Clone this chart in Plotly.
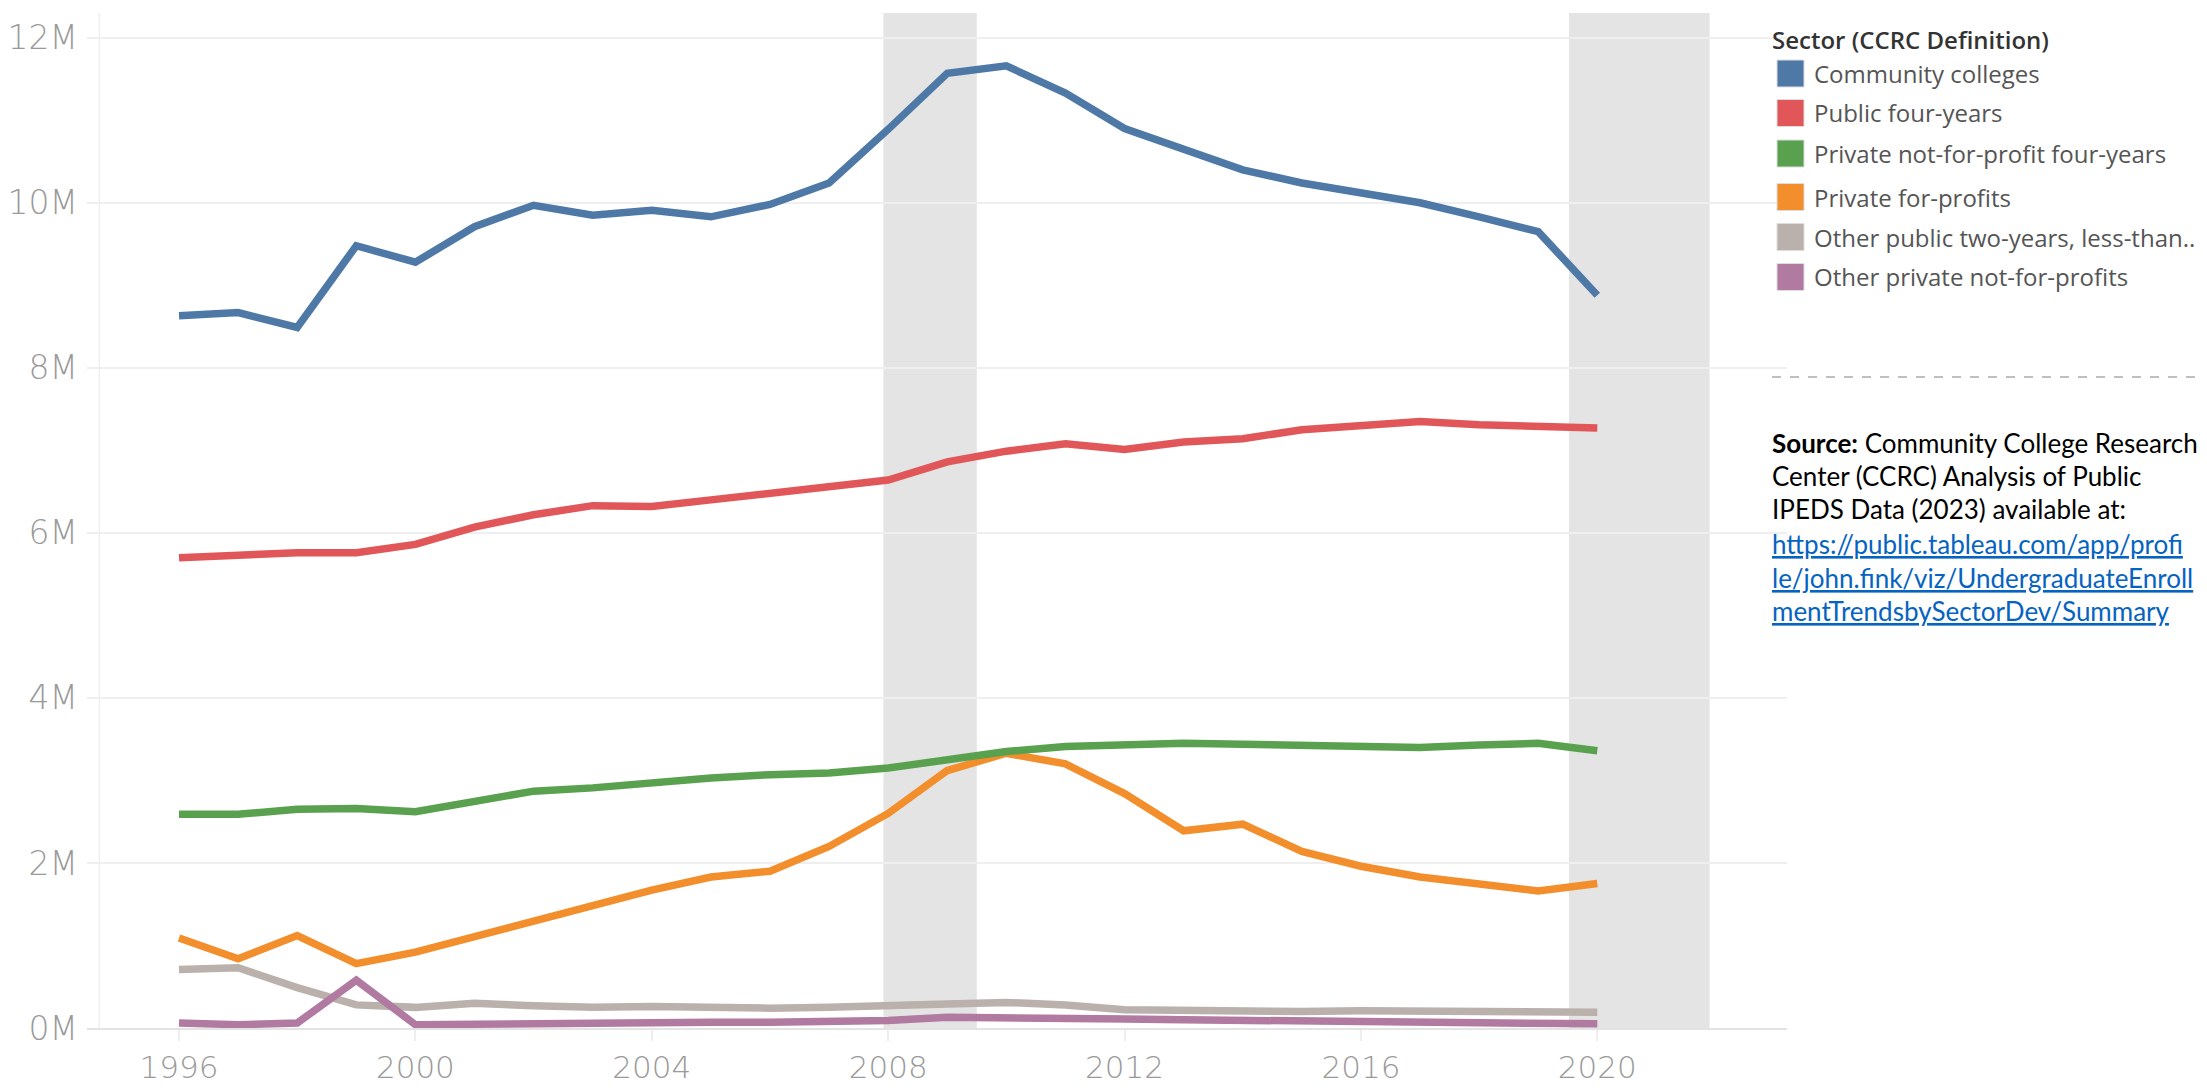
import plotly.graph_objects as go

years = list(range(1996, 2021))

series_names = [
    "Community colleges",
    "Public four-years",
    "Private not-for-profit four-years",
    "Private for-profits",
    "Other public two-years, less-than..",
    "Other private not-for-profits",
]
series_colors = ["#4e79a7", "#e15759", "#59a14f", "#f28e2b", "#bab0ac", "#b07aa1"]

# values in millions
community_colleges = [8.63, 8.67, 8.49, 9.48, 9.28, 9.71, 9.97, 9.85, 9.91, 9.83, 9.98, 10.24,
                      10.89, 11.57, 11.66, 11.33, 10.90, 10.66, 10.40, 10.24, 10.12, 10.00,
                      9.83, 9.65, 8.88]
public_four_years = [5.70, 5.73, 5.76, 5.76, 5.86, 6.07, 6.22, 6.33, 6.32, 6.40, 6.48, 6.54,
                     6.64, 6.86, 6.99, 7.08, 7.01, 7.10, 7.14, 7.25, 7.29, 7.35, 7.31, 7.28, 7.27]
private_nfp_four_years = [2.59, 2.59, 2.65, 2.66, 2.62, 2.74, 2.87, 2.91, 2.98, 3.03, 3.07, 3.09,
                          3.15, 3.26, 3.35, 3.41, 3.44, 3.45, 3.44, 3.42, 3.42, 3.40, 3.43, 3.45, 3.36]
private_for_profits = [1.09, 0.84, 1.12, 0.78, 0.92, 1.11, 1.28, 1.47, 1.67, 1.83, 1.90, 2.20,
                       2.60, 3.12, 3.33, 3.20, 2.84, 2.39, 2.47, 2.14, 1.96, 1.83, 1.75, 1.66, 1.75]
other_public_two_years = [0.71, 0.73, 0.49, 0.28, 0.25, 0.30, 0.27, 0.25, 0.26, 0.24, 0.24, 0.25,
                          0.28, 0.29, 0.31, 0.28, 0.22, 0.21, 0.19, 0.20, 0.21, 0.20, 0.20, 0.19, 0.19]
other_private_nfp = [0.06, 0.04, 0.06, 0.58, 0.04, 0.05, 0.06, 0.06, 0.07, 0.07, 0.07, 0.08,
                     0.09, 0.13, 0.13, 0.12, 0.11, 0.10, 0.09, 0.08, 0.07, 0.06, 0.06, 0.06, 0.05]

series_values = [community_colleges, public_four_years, private_nfp_four_years,
                 private_for_profits, other_public_two_years, other_private_nfp]

y_tick_vals = [0, 2, 4, 6, 8, 10, 12]
y_tick_text = ["0M", "2M", "4M", "6M", "8M", "10M", "12M"]
x_tick_vals = [1996, 2000, 2004, 2008, 2012, 2016, 2020]
x_tick_text = ["1996", "2000", "2004", "2008", "2012", "2016", "2020"]

recession_bands = [(2007.92, 2009.5), (2019.52, 2021.9)]

legend_title = "Sector (CCRC Definition)"
source_lines = [
    ("<b>Source:</b> Community College Research", False),
    ("Center (CCRC) Analysis of Public", False),
    ("IPEDS Data (2023) available at:", False),
    ("https://public.tableau.com/app/profi", True),
    ("le/john.fink/viz/UndergraduateEnroll", True),
    ("mentTrendsbySectorDev/Summary", True),
]

# The page body adds an 8px margin, so the figure is laid out 8px smaller
# and all target page-pixel positions are offset by 8.
OFF = 8
W, H = 2207 - OFF, 1088 - OFF
L, R, T, B = 87 - OFF, 1787 - OFF, 13 - OFF, 1028 - OFF


def px_x(px):
    return (px - OFF - L) / (R - L)


def px_y(py):
    return (B - (py - OFF)) / (B - T)


fig = go.Figure()

draw_order = [4, 5, 3, 2, 1, 0]
for i in draw_order:
    fig.add_trace(go.Scatter(
        x=years, y=[v * 1e6 for v in series_values[i]],
        mode="lines", name=series_names[i],
        line=dict(color=series_colors[i], width=7.5),
        showlegend=False,
    ))

shapes = []
for x0, x1 in recession_bands:
    shapes.append(dict(type="rect", xref="x", yref="paper", x0=x0, x1=x1, y0=0, y1=1,
                       fillcolor="#e4e4e4", line=dict(width=0), layer="below"))
# left vertical rule
shapes.append(dict(type="line", xref="x", yref="paper", x0=1994.65, x1=1994.65, y0=0, y1=1,
                   line=dict(color="#efefef", width=1.5), layer="below"))

annotations = []
XS = -2  # small pixel correction for annotation padding
# legend
annotations.append(dict(xref="paper", yref="paper", x=px_x(1772), y=px_y(39), xshift=XS,
                        xanchor="left", yanchor="middle", showarrow=False,
                        text=legend_title,
                        font=dict(family="Open Sans", size=24, color="#333333", weight=600)))
centers = [73.5, 113, 153.5, 197, 237, 277]
for name, col, cy in zip(series_names, series_colors, centers):
    shapes.append(dict(type="rect", xref="paper", yref="paper",
                       x0=px_x(1777), x1=px_x(1804), y0=px_y(cy + 13.5), y1=px_y(cy - 13.5),
                       fillcolor=col, line=dict(color="#dddddd", width=1)))
    annotations.append(dict(xref="paper", yref="paper", x=px_x(1814), y=px_y(cy), xshift=XS,
                            xanchor="left", yanchor="middle", showarrow=False, text=name,
                            font=dict(family="Open Sans", size=24, color="#555555")))
# dashed separator
shapes.append(dict(type="line", xref="paper", yref="paper", x0=px_x(1772), x1=px_x(2195),
                   y0=px_y(377), y1=px_y(377), line=dict(color="#aaaaaa", width=1.5, dash="dash")))

line_centers = [443, 476, 509, 544, 578, 611]
for (txt, is_link), cy in zip(source_lines, line_centers):
    if is_link:
        txt = "<u>" + txt + "</u>"
    annotations.append(dict(xref="paper", yref="paper", x=px_x(1772), y=px_y(cy), xshift=XS,
                            xanchor="left", yanchor="middle", align="left", showarrow=False,
                            text=txt,
                            font=dict(family="Lato", size=26,
                                      color="#0563C1" if is_link else "#000000")))

fig.update_layout(
    width=W, height=H,
    margin=dict(l=L, r=W - R, t=T, b=H - B, pad=0, autoexpand=False),
    paper_bgcolor="white", plot_bgcolor="white",
    shapes=shapes, annotations=annotations,
    showlegend=False,
    xaxis=dict(range=[1994.443, 2023.21], tickvals=x_tick_vals, ticktext=x_tick_text,
               automargin=False,
               showgrid=False, zeroline=False, showline=True, linecolor="#e3e3e3", linewidth=2,
               ticks="outside", ticklen=11, tickcolor="#eeeeee", tickwidth=1.5,
               tickfont=dict(family="DejaVu Sans", size=31, color="#9a9a9a", weight=300)),
    yaxis=dict(range=[0, 12.3e6], tickvals=[v * 1e6 for v in y_tick_vals], ticktext=y_tick_text,
               automargin=False,
               showgrid=True, gridcolor="#efefef", gridwidth=2, zeroline=False, showline=False,
               ticklabelstandoff=8,
               tickfont=dict(family="DejaVu Sans", size=33, color="#9a9a9a", weight=300)),
)

fig.write_html("out.html")
